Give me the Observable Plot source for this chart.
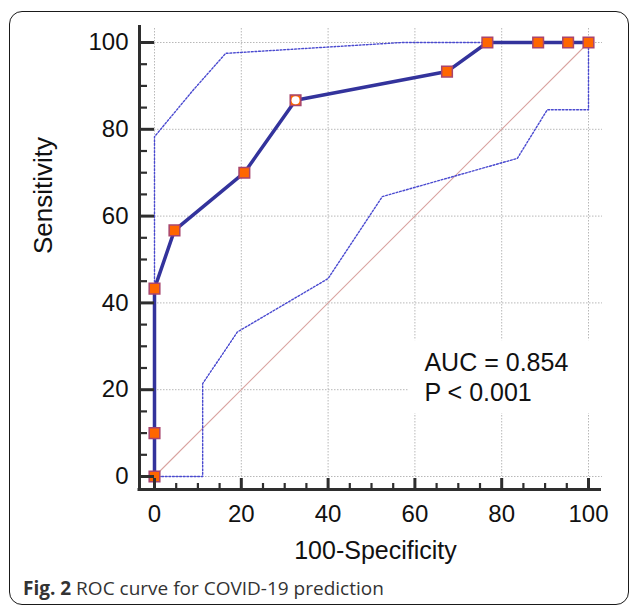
<!DOCTYPE html>
<html><head><meta charset="utf-8">
<script src="https://cdn.jsdelivr.net/npm/d3@7"></script>
<script src="https://cdn.jsdelivr.net/npm/@observablehq/plot@0.6"></script>
<style>
body{margin:0;background:#fff;}
#wrap{position:relative;width:630px;height:609px;overflow:hidden;}
#frame{position:absolute;left:9px;top:11px;width:620px;height:594px;box-sizing:border-box;border:1.6px solid #1a1a1a;border-radius:13px;}
#chart{position:absolute;left:0;top:0;}
#caption{position:absolute;left:23px;top:577px;font-family:"Open Sans",sans-serif;font-size:19px;color:#333;line-height:22px;white-space:nowrap;}
</style></head><body>
<div id="wrap"><div id="chart"></div><div id="frame"></div><div id="caption"><b>Fig. 2</b> ROC curve for COVID-19 prediction</div></div>
<script>
// ROC curve (100-Specificity, Sensitivity)
const rocX = [0, 0, 0, 4.6, 20.7, 32.5, 67.4, 76.7, 88.4, 95.3, 100];
const rocY = [0, 10, 43.3, 56.7, 70, 86.7, 93.3, 100, 100, 100, 100];
const criterionIndex = 5;
// 95% confidence bounds
const upperX = [0, 0, 8.8, 16.4, 57, 100];
const upperY = [0, 78.3, 88.9, 97.5, 100, 100];
const lowerX = [0, 11.1, 11.1, 19.1, 40, 52.5, 83.6, 90.5, 100, 100];
const lowerY = [0, 0, 21.4, 33.3, 45.6, 64.5, 73.3, 84.5, 84.5, 100];
// reference diagonal
const diagX = [0, 100];
const diagY = [0, 100];
// ticks
const xTicks = [0, 20, 40, 60, 80, 100];
const yTicks = [0, 20, 40, 60, 80, 100];
const minorTicks = d3.range(0, 101, 5).filter(v => v % 20 !== 0);
const annotationLines = ["AUC = 0.854", "P < 0.001"];
const xLabel = "100-Specificity";
const yLabel = "Sensitivity";

const roc = rocX.map((x, i) => ({x, y: rocY[i], i}));
const upper = upperX.map((x, i) => ({x, y: upperY[i]}));
const lower = lowerX.map((x, i) => ({x, y: lowerY[i]}));
const diag = diagX.map((x, i) => ({x, y: diagY[i]}));

const gridStyle = {stroke: "#b8b8b8", strokeWidth: 1, strokeDasharray: "1.5,1.5"};
const ciStyle = {stroke: "#4a4ad0", strokeWidth: 1.4, strokeDasharray: "1.8,1.8"};
const axisColor = "#2e2e2e";
const textColor = "#111";

const chart = Plot.plot({
  width: 630, height: 570,
  marginLeft: 154, marginRight: 42, marginTop: 42, marginBottom: 94,
  x: {domain: [0, 100], label: null},
  y: {domain: [0, 100], label: null},
  style: {fontFamily: '"Liberation Sans", Arial, sans-serif', background: "white", overflow: "visible"},
  marks: [
    Plot.ruleY(yTicks, {...gridStyle, insetRight: -14}),
    Plot.ruleX(xTicks, {...gridStyle, insetTop: -14}),
    Plot.rect([0], {x1: 58.5, x2: 104, y1: 14.5, y2: 31.3, fill: "white"}),
    Plot.line(diag, {x: "x", y: "y", stroke: "#d9a3a0", strokeWidth: 1.1}),
    Plot.line(lower, {x: "x", y: "y", ...ciStyle}),
    Plot.line(upper, {x: "x", y: "y", ...ciStyle}),
    Plot.line(roc, {x: "x", y: "y", stroke: "#33339c", strokeWidth: 3.5}),
    Plot.dot(roc, {x: "x", y: "y", symbol: "square", r: 6, fill: "#ff6600", stroke: "#a8456e", strokeWidth: 1.5}),
    Plot.dot(roc.filter(d => d.i === criterionIndex), {x: "x", y: "y", r: 4, fill: "white"}),
    Plot.text([annotationLines.join("\n")], {x: 62.2, y: 17.5, text: d => d, textAnchor: "start", lineAnchor: "bottom", lineHeight: 1.2, fontSize: 25, fill: textColor}),
    // axis lines
    Plot.ruleX([0], {dx: -15, insetTop: -17, insetBottom: -14.5, stroke: axisColor, strokeWidth: 3}),
    Plot.ruleY([0], {dy: 13, insetLeft: -16.5, insetRight: -13, stroke: axisColor, strokeWidth: 3}),
    // y axis
    Plot.axisY({ticks: yTicks, tickSize: 0, tickPadding: 26, fontSize: 24, fill: textColor, label: null}),
    Plot.axisY({ticks: yTicks, tickSize: 15, fill: "none", stroke: axisColor, strokeWidth: 3, label: null}),
    Plot.axisY({ticks: minorTicks, tickSize: 8, dx: -7, fill: "none", stroke: axisColor, strokeWidth: 2.2, label: null}),
    // x axis
    Plot.axisX({ticks: xTicks, tickSize: 0, tickPadding: 28, fontSize: 24, fill: textColor, label: null}),
    Plot.axisX({ticks: xTicks, tickSize: 11, dy: 2, fill: "none", stroke: axisColor, strokeWidth: 3, label: null}),
    Plot.axisX({ticks: minorTicks, tickSize: 6, dy: 7, fill: "none", stroke: axisColor, strokeWidth: 2.2, label: null}),
    // axis titles
    Plot.text([xLabel], {frameAnchor: "bottom", dx: 4, dy: 82, lineAnchor: "bottom", fontSize: 25, fill: textColor}),
    Plot.text([yLabel], {frameAnchor: "left", dx: -103, dy: -5.5, rotate: -90, lineAnchor: "bottom", fontSize: 26, fill: textColor})
  ]
});
document.getElementById("chart").appendChild(chart);
</script>
</body></html>
